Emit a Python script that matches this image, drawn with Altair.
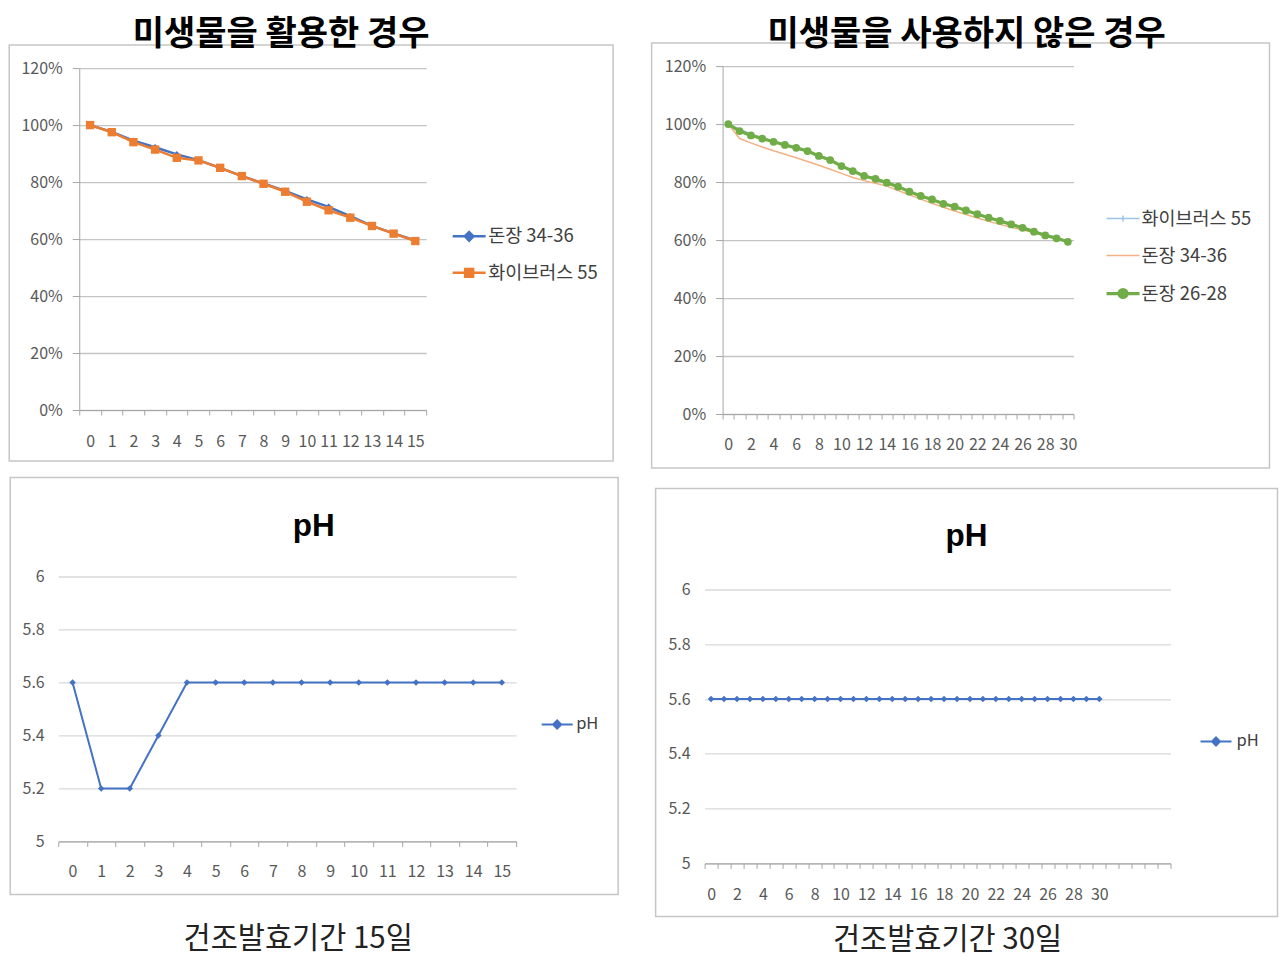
import altair as alt
import pandas as pd

KR = "Noto Sans CJK KR"
LAT = "Liberation Sans"
TXT = "#595959"
BORDER = "#c6c6c6"

# ---------------- text ----------------
title_left = "미생물을 활용한 경우"
title_right = "미생물을 사용하지 않은 경우"
ph_title = "pH"
caption_15 = "건조발효기간 15일"
caption_30 = "건조발효기간 30일"

# ---------------- data ----------------
days_15 = [0, 1, 2, 3, 4, 5, 6, 7, 8, 9, 10, 11, 12, 13, 14, 15]
s15_names = ["돈장 34-36", "화이브러스 55"]
s15_donjang_34_36 = [100, 97.6, 94.5, 92.2, 89.7, 87.7, 85.0, 82.1, 79.5, 76.9, 73.9, 71.3, 68.0, 64.6, 62.0, 59.5]
s15_hybrus_55 = [100, 97.5, 94.0, 91.4, 88.5, 87.6, 85.0, 82.1, 79.4, 76.6, 73.1, 70.1, 67.5, 64.6, 61.9, 59.3]

days_30 = [0, 1, 2, 3, 4, 5, 6, 7, 8, 9, 10, 11, 12, 13, 14, 15,
           16, 17, 18, 19, 20, 21, 22, 23, 24, 25, 26, 27, 28, 29, 30]
s30_names = ["화이브러스 55", "돈장 34-36", "돈장 26-28"]
s30_hybrus_55 = [100, 98.2, 96.6, 95.3, 94.1, 93.0, 92.0, 90.9, 89.2, 87.8, 85.7, 84.0, 82.3, 81.3, 80.0, 78.6,
                 76.9, 75.4, 74.2, 72.7, 71.7, 70.4, 69.1, 67.9, 66.8, 65.6, 64.4, 63.1, 61.8, 60.8, 59.6]
s30_donjang_34_36 = [100, 95.0, 93.5, 92.1, 90.8, 89.6, 88.4, 87.1, 85.8, 84.4, 83.0, 81.6, 80.5, 79.6, 78.6, 77.1,
                     75.6, 74.1, 72.7, 71.3, 70.0, 68.8, 67.6, 66.5, 65.4, 64.4, 63.5, 62.5, 61.5, 60.5, 59.4]
s30_donjang_26_28 = [100, 97.6, 96.1, 95.0, 93.9, 92.8, 91.8, 90.7, 89.0, 87.6, 85.5, 83.8, 82.1, 81.1, 79.8, 78.4,
                     76.7, 75.2, 74.0, 72.5, 71.5, 70.2, 68.9, 67.7, 66.6, 65.4, 64.2, 62.9, 61.6, 60.6, 59.4]

pct_ticks = [0, 20, 40, 60, 80, 100, 120]
ph_ticks = [5, 5.2, 5.4, 5.6, 5.8, 6]
ph_name = ["pH"]
ph_15 = [5.6, 5.2, 5.2, 5.4, 5.6, 5.6, 5.6, 5.6, 5.6, 5.6, 5.6, 5.6, 5.6, 5.6, 5.6, 5.6]
ph_30 = [5.6, 5.6, 5.6, 5.6, 5.6, 5.6, 5.6, 5.6, 5.6, 5.6, 5.6, 5.6, 5.6, 5.6, 5.6, 5.6,
         5.6, 5.6, 5.6, 5.6, 5.6, 5.6, 5.6, 5.6, 5.6, 5.6, 5.6, 5.6, 5.6, 5.6, 5.6]
ph_30_axis_days = [0, 1, 2, 3, 4, 5, 6, 7, 8, 9, 10, 11, 12, 13, 14, 15, 16, 17,
                   18, 19, 20, 21, 22, 23, 24, 25, 26, 27, 28, 29, 30, 31, 32, 33, 34, 35]

BLUE = "#4472C4"
ORANGE = "#ED7D31"
GREEN = "#70AD47"
LBLUE = "#9DC3E6"
LORANGE = "#F4B183"

# legend symbol paths (line + marker)
P_LINE = "M-1,0H1"
P_DIAMOND = "M-1,0H1M0,-0.26L0.26,0L0,0.26L-0.26,0Z"
P_SQUARE = "M-1,0H1M-0.24,-0.24H0.24V0.24H-0.24Z"
P_CIRCLE = "M-1,0H1M0.24,0A0.24,0.24,0,1,1,-0.24,0A0.24,0.24,0,1,1,0.24,0Z"
P_PLUS = "M-1,0H1M0,-0.18V0.18"


def long_df(days, names, series):
    rows = []
    for n, vals in zip(names, series):
        for d, v in zip(days, vals):
            rows.append({"day": d, "series": n, "value": v})
    return pd.DataFrame(rows)


def pick(names, vals):
    def lit(v):
        return f"'{v}'" if isinstance(v, str) else str(v)
    expr = lit(vals[-1])
    for n, v in zip(reversed(names[:-1]), reversed(vals[:-1])):
        expr = f"datum.value === '{n}' ? {lit(v)} : ({expr})"
    return expr


def make_legend(names, shapes, fills, widths, lx, ly, size, row_pad, font_size=18.5, label_offset=1):
    kw = dict(orient="none", legendX=lx, legendY=ly, title=None, padding=0,
              symbolSize=size, labelFont=KR, labelFontSize=font_size,
              labelColor="#404040", labelOffset=label_offset, rowPadding=row_pad)
    if len(names) > 1:
        kw.update(symbolType={"expr": pick(names, shapes)},
                  symbolFillColor={"expr": pick(names, fills)},
                  symbolStrokeWidth={"expr": pick(names, widths)})
    else:
        kw.update(symbolType=shapes[0], symbolFillColor=fills[0], symbolStrokeWidth=widths[0])
    return alt.Legend(**kw)


def x_enc(domain, label_padding, label_expr=None, rng=None):
    kw = dict(title=None, labelAngle=0, tickBand="extent", tickSize=5, tickColor="#a6a6a6",
              domainColor="#a6a6a6", domainWidth=1.2, labelPadding=label_padding, labelFont=KR,
              labelFontSize=16, labelColor=TXT, labelOverlap=False, grid=False)
    if label_expr:
        kw["labelExpr"] = label_expr
    skw = dict(type="band", domain=domain, paddingInner=0, paddingOuter=0)
    if rng is not None:
        skw["range"] = rng
    return alt.X("day:O", scale=alt.Scale(**skw), axis=alt.Axis(**kw), bandPosition=0.5)


def y_pct(rng=None):
    skw = dict(domain=[0, 120], nice=False, zero=False)
    if rng is not None:
        skw["range"] = rng
    return alt.Y("value:Q", scale=alt.Scale(**skw),
                 axis=alt.Axis(title=None, values=pct_ticks, labelExpr="datum.value + '%'", grid=True,
                               gridColor="#c4c4c4", gridWidth=1.3, domain=True, domainColor="#a6a6a6",
                               tickSize=7, tickColor="#a6a6a6", labelPadding=10, labelFont=KR,
                               labelFontSize=16, labelColor=TXT))


def y_ph(pad, offset=0, rng=None):
    skw = dict(domain=[5, 6], nice=False, zero=False)
    if rng is not None:
        skw["range"] = rng
    return alt.Y("value:Q", scale=alt.Scale(**skw),
                 axis=alt.Axis(title=None, values=ph_ticks, format="~g", grid=True, gridColor="#d9d9d9",
                               gridWidth=1.3, domain=False, ticks=False, tickSize=0, labelPadding=pad,
                               offset=offset, labelFont=KR, labelFontSize=16, labelColor=TXT))


def text_layer(txt, x, y, size, weight, font, color="#000000"):
    return alt.Chart(pd.DataFrame({"t": [txt]})).mark_text(
        font=font, fontSize=size, fontWeight=weight, align="center", baseline="alphabetic", color=color
    ).encode(text="t:N", x=alt.value(x), y=alt.value(y))


def border_layer(x1, y1, x2, y2):
    return alt.Chart(pd.DataFrame({"b": [0]})).mark_rect(
        filled=False, stroke=BORDER, strokeWidth=1.5
    ).encode(x=alt.value(x1), x2=alt.value(x2), y=alt.value(y1), y2=alt.value(y2))


def series_layers(df, xe, ye, names, colors, widths, markers, legend):
    cscale = alt.Scale(domain=names, range=colors)
    line = alt.Chart(df).mark_line().encode(
        x=xe, y=ye,
        color=alt.Color("series:N", scale=cscale, legend=legend),
        strokeWidth=alt.StrokeWidth("series:N", scale=alt.Scale(type="ordinal", domain=names, range=widths),
                                    legend=None),
    )
    out = [line]
    for n, mk in zip(names, markers):
        if mk is None:
            continue
        shape, size = mk
        out.append(
            alt.Chart(df).transform_filter(alt.datum.series == n)
            .mark_point(filled=True, shape=shape, size=size, opacity=1)
            .encode(x=xe, y=ye, color=alt.Color("series:N", scale=cscale, legend=None))
        )
    return out


# ---------------- top-left (view origin 79,65) ----------------
df_tl = long_df(days_15, s15_names, [s15_donjang_34_36, s15_hybrus_55])
leg_tl = make_legend(s15_names, [P_DIAMOND, P_SQUARE], [BLUE, ORANGE], [2, 2], 372, 152.3, 1089, 8.5)
tl = alt.layer(
    border_layer(-70, -21, 534, 395),
    *series_layers(df_tl, x_enc(days_15, 18), y_pct([344, 2]), s15_names, [BLUE, ORANGE], [2.5, 2.5],
                   [("diamond", 45), ("square", 70)], leg_tl),
    text_layer(title_left, 202, -21.5, 34, "bold", KR),
).properties(width=347, height=344)

# ---------------- top-right (view origin 722,65) ----------------
df_tr = long_df(days_30, s30_names, [s30_hybrus_55, s30_donjang_34_36, s30_donjang_26_28])
leg_tr = make_legend(s30_names, [P_PLUS, P_LINE, P_CIRCLE], [LBLUE, "transparent", GREEN], [1.5, 1.5, 3],
                     382, 135, 1089, 10, label_offset=0)
tr = alt.layer(
    border_layer(-71, -23, 547, 402),
    *series_layers(df_tr, x_enc(days_30, 17, "datum.value % 2 === 0 ? datum.label : ''"), y_pct(),
                   s30_names, [LBLUE, LORANGE, GREEN], [1.5, 1.5, 3.2], [None, None, ("circle", 60)], leg_tr),
    text_layer(title_right, 244, -21.5, 34, "bold", KR),
).properties(width=351, height=348)

# ---------------- bottom-left (view origin 79,575; plot starts at 58) ----------------
df_bl = long_df(days_15, ph_name, [ph_15])
leg_bl = make_legend(ph_name, [P_DIAMOND], [BLUE], [2], 461.5, 131.5, 961, 4, 16.5, 2.5)
bl = alt.layer(
    border_layer(-69, -99, 539, 318),
    *series_layers(df_bl, x_enc(days_15, 17, rng=[-21, 437]), y_ph(14, offset=21), ph_name, [BLUE], [2],
                   [("diamond", 42)], leg_bl),
    text_layer(ph_title, 234.5, -40.5, 31.5, "bold", LAT),
    text_layer(caption_15, 219, 372, 29.5, "normal", KR, "#222222"),
).properties(width=437, height=265)

# ---------------- bottom-right (view origin 704,575; plot top at 588) ----------------
df_br = long_df(days_30, ph_name, [ph_30])
leg_br = make_legend(ph_name, [P_DIAMOND], [BLUE], [2], 495, 148.5, 961, 4, 16.5, 4)
br = alt.layer(
    border_layer(-49, -88, 573, 340),
    *series_layers(df_br, x_enc(ph_30_axis_days, 18, "datum.value % 2 === 0 && datum.value <= 30 ? datum.label : ''"),
                   y_ph(14.5, rng=[287, 13]), ph_name, [BLUE], [2], [("diamond", 42)], leg_br),
    text_layer(ph_title, 262, -30.5, 31.5, "bold", LAT),
    text_layer(caption_30, 243, 373, 29.5, "normal", KR, "#222222"),
).properties(width=466, height=287)

row1 = alt.hconcat(tl, tr, spacing=36.5).resolve_scale(
    color="independent", strokeWidth="independent", x="independent", y="independent")
row2 = alt.hconcat(bl, br, spacing=35.5).resolve_scale(
    color="independent", strokeWidth="independent", x="independent", y="independent")

chart = alt.vconcat(row1, row2, spacing=7.5).resolve_scale(
    color="independent", strokeWidth="independent", x="independent", y="independent"
).properties(
    padding={"left": 8.25, "top": 17, "right": 0, "bottom": 1},
    background="white",
).configure_view(stroke=None)

chart.save("out.html", embed_options={"renderer": "svg", "actions": False})
